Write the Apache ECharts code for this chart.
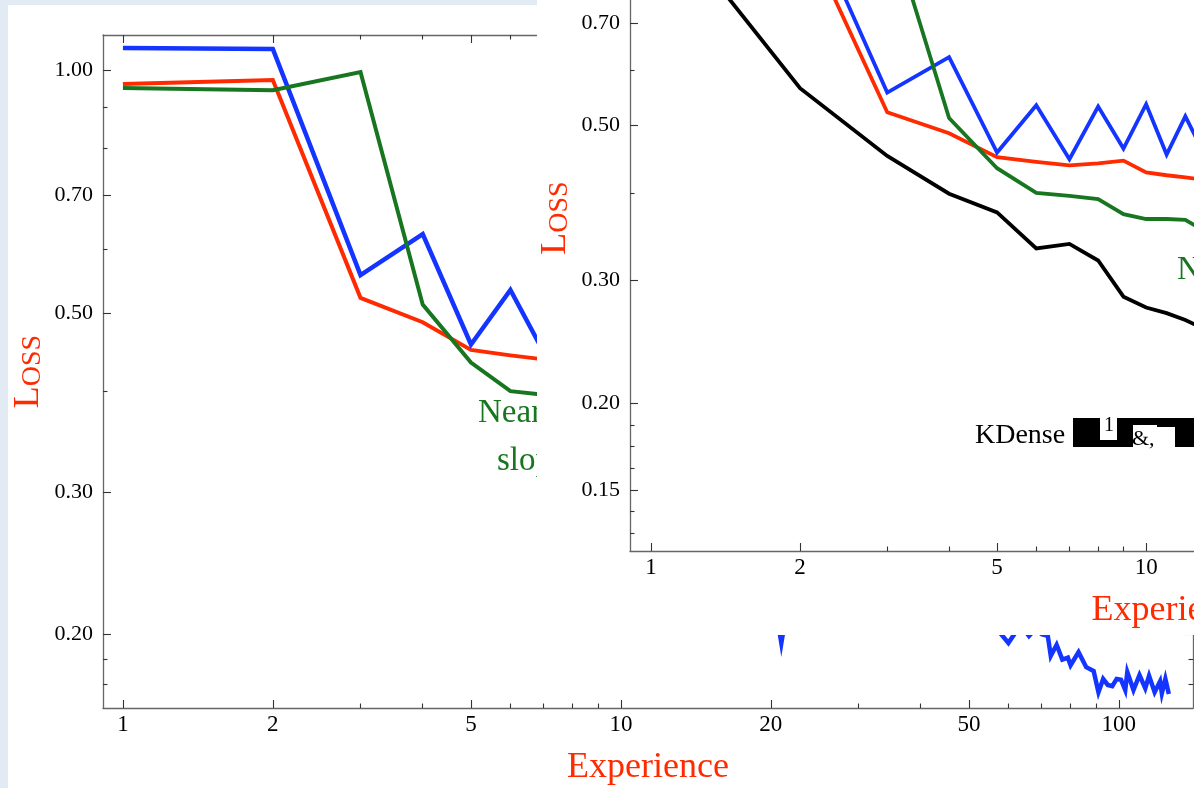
<!DOCTYPE html>
<html>
<head>
<meta charset="utf-8">
<script src="https://cdn.jsdelivr.net/npm/echarts@6/dist/echarts.min.js"></script>
<style>
  html, body { margin: 0; padding: 0; width: 1194px; height: 788px; overflow: hidden; background: #fff; position: relative; }
  #edgeLeft { position: absolute; left: 0; top: 0; width: 8px; height: 788px; background: #e2eaf4; }
  #edgeTop { position: absolute; left: 0; top: 0; width: 537px; height: 5px; background: #e2eaf4; }
  #chartA { position: absolute; left: 8px; top: 5px; width: 1186px; height: 783px; }
  #chartB { position: absolute; left: 537px; top: -120px; width: 1183px; height: 755px; background: #fff; }
</style>
</head>
<body>
<div id="edgeLeft"></div>
<div id="edgeTop"></div>
<div id="chartA"></div>
<div id="chartB"></div>
<script>
// experience steps and loss per curve
const steps = [1, 2, 3, 4, 5, 6, 7, 8, 9, 10, 11, 12, 13]
const redLoss = [0.961, 0.972, 0.522, 0.487, 0.450, 0.443, 0.438, 0.441, 0.445, 0.428, 0.424, 0.421, 0.418]
const blueLoss = [1.065, 1.062, 0.557, 0.626, 0.457, 0.534, 0.447, 0.532, 0.463, 0.536, 0.454, 0.515, 0.46]
const greenLoss = [0.950, 0.944, 0.994, 0.512, 0.434, 0.400, 0.396, 0.392, 0.373, 0.367, 0.367, 0.366, 0.354]
const blackLoss = [1.05, 0.565, 0.452, 0.399, 0.375, 0.333, 0.338, 0.320, 0.284, 0.274, 0.269, 0.263, 0.256]

// the long blue run (only its tail shows below the inset)
const blueLateSteps = [14, 16, 18, 20, 21, 22, 25, 30, 35, 40, 45, 50, 54, 56, 58, 60, 62, 64, 66, 68, 70,
  72, 73, 75, 77, 79, 80, 83, 86, 89, 91, 93, 95, 97, 99, 101, 103, 104, 107, 110, 113, 115, 118, 121, 122, 124, 126]
const blueLateLoss = [0.44, 0.37, 0.29, 0.235, 0.195, 0.232, 0.245, 0.238, 0.228, 0.222, 0.215, 0.21, 0.206, 0.204,
  0.200, 0.195, 0.201, 0.204, 0.199, 0.203, 0.200, 0.199, 0.188, 0.194, 0.186, 0.187, 0.183, 0.190, 0.182, 0.180,
  0.1695, 0.176, 0.173, 0.1724, 0.176, 0.1756, 0.1705, 0.1795, 0.1705, 0.178, 0.1714, 0.1776, 0.1695, 0.1748,
  0.169, 0.176, 0.1686]

// ticks
const stepTicks = [1, 2, 5, 10, 20, 50, 100]
const stepMinorTicks = [3, 4, 6, 7, 8, 9, 30, 40, 60, 70, 80, 90]
const lossTicks = [0.15, 0.2, 0.3, 0.5, 0.7, 1]
const lossMinorTicks = [0.13, 0.14, 0.1612, 0.1732, 0.1861, 0.4, 0.6, 0.8, 0.9]

const SERIF = "'Liberation Serif', 'Times New Roman', serif"
const RED = '#ff2a00'
const BLUE = '#1434ff'
const GREEN = '#17761f'

const zip = (xs, ys) => xs.map((x, i) => [x, ys[i]])

function logAxis({ position, min, max, ticks, major, label }) {
  return {
    type: 'log',
    logBase: 10,
    position,
    min,
    max,
    splitLine: { show: false },
    axisLine: { show: major, onZero: false, lineStyle: { color: '#666', width: 1.3 } },
    axisTick: {
      inside: true,
      length: major ? 8 : 4.5,
      customValues: ticks,
      lineStyle: { color: '#333', width: 1.1 },
    },
    axisLabel: label ? Object.assign({ customValues: ticks }, label) : { show: false },
  }
}

function frame({ x, y }) {
  const xLabel = { formatter: v => String(Math.round(v)), fontFamily: SERIF, fontSize: 23, color: '#000', margin: 5 }
  const yLabel = { formatter: v => v.toFixed(2), fontFamily: SERIF, fontSize: 22, color: '#000', margin: 10 }
  const xName = {
    name: 'Experience',
    nameLocation: 'middle',
    nameGap: 42,
    nameMoveOverlap: false,
    nameTextStyle: { color: RED, fontFamily: SERIF, fontSize: 36 },
  }
  const yName = {
    name: '{l|L}{s|OSS}',
    nameLocation: 'middle',
    nameRotate: 90,
    nameGap: 56,
    nameMoveOverlap: false,
    nameTextStyle: {
      color: RED,
      fontFamily: SERIF,
      rich: {
        l: { fontSize: 36, fontFamily: SERIF, color: RED, verticalAlign: 'bottom' },
        s: { fontSize: 28, fontFamily: SERIF, color: RED, verticalAlign: 'bottom' },
      },
    },
  }
  return {
    xAxis: [
      Object.assign(logAxis({ position: 'bottom', min: x[0], max: x[1], ticks: stepTicks, major: true, label: xLabel }), xName),
      logAxis({ position: 'bottom', min: x[0], max: x[1], ticks: stepMinorTicks, major: false }),
      logAxis({ position: 'top', min: x[0], max: x[1], ticks: stepTicks, major: true }),
      logAxis({ position: 'top', min: x[0], max: x[1], ticks: stepMinorTicks, major: false }),
    ],
    yAxis: [
      Object.assign(logAxis({ position: 'left', min: y[0], max: y[1], ticks: lossTicks, major: true, label: yLabel }), yName),
      logAxis({ position: 'left', min: y[0], max: y[1], ticks: lossMinorTicks, major: false }),
      logAxis({ position: 'right', min: y[0], max: y[1], ticks: lossTicks, major: true }),
      logAxis({ position: 'right', min: y[0], max: y[1], ticks: lossMinorTicks, major: false }),
    ],
  }
}

function line(color, data, width) {
  return {
    type: 'line',
    data,
    symbol: 'none',
    xAxisIndex: 0,
    yAxisIndex: 0,
    lineStyle: { color, width, join: 'miter' },
    itemStyle: { color },
  }
}

function note(text, x, y, size, color) {
  return {
    type: 'text',
    x,
    y,
    z: 10,
    style: { text, fill: color, fontSize: size, fontFamily: SERIF, align: 'left', verticalAlign: 'middle' },
  }
}

function block(x, y, width, height) {
  return { type: 'rect', z: 10, shape: { x, y, width, height }, style: { fill: '#000' } }
}

// background chart
const chartA = echarts.init(document.getElementById('chartA'))
chartA.setOption(Object.assign({
  animation: false,
  grid: { left: 95, top: 30, right: 1, bottom: 80, outerBoundsMode: 'none' },
  series: [
    line(RED, zip(steps, redLoss), 4),
    line(BLUE, zip(steps.concat(blueLateSteps), blueLoss.concat(blueLateLoss)), 4.5),
    line(GREEN, zip(steps, greenLoss), 4),
  ],
  graphic: [
    note('Near', 470, 408, 33, GREEN),
    note('slope', 489, 456, 33, GREEN),
  ],
}, frame({ x: [0.912, 140.9], y: [0.162, 1.105] })))

// inset chart on top
const chartB = echarts.init(document.getElementById('chartB'))
chartB.setOption(Object.assign({
  animation: false,
  grid: { left: 93, top: 5, right: 5, bottom: 84, outerBoundsMode: 'none' },
  series: [
    line('#000', zip(steps, blackLoss), 3.8),
    line(RED, zip(steps, redLoss), 3.8),
    line(BLUE, zip(steps.concat(blueLateSteps), blueLoss.concat(blueLateLoss)), 3.8),
    line(GREEN, zip(steps, greenLoss), 3.8),
  ],
  graphic: [
    note('Near', 640, 390, 33, GREEN),
    note('KDense', 438, 556, 28, '#000'),
    block(536, 538, 27, 29),
    block(563, 560, 18, 7),
    note('1', 567, 546, 20, '#000'),
    block(580, 538, 16, 29),
    block(596, 538, 24, 7),
    note('&,', 595, 559, 22, '#000'),
    block(620, 538, 20, 9),
    block(638, 538, 30, 29),
  ],
}, frame({ x: [0.907, 140.9], y: [0.1227, 1.105] })))
</script>
</body>
</html>
